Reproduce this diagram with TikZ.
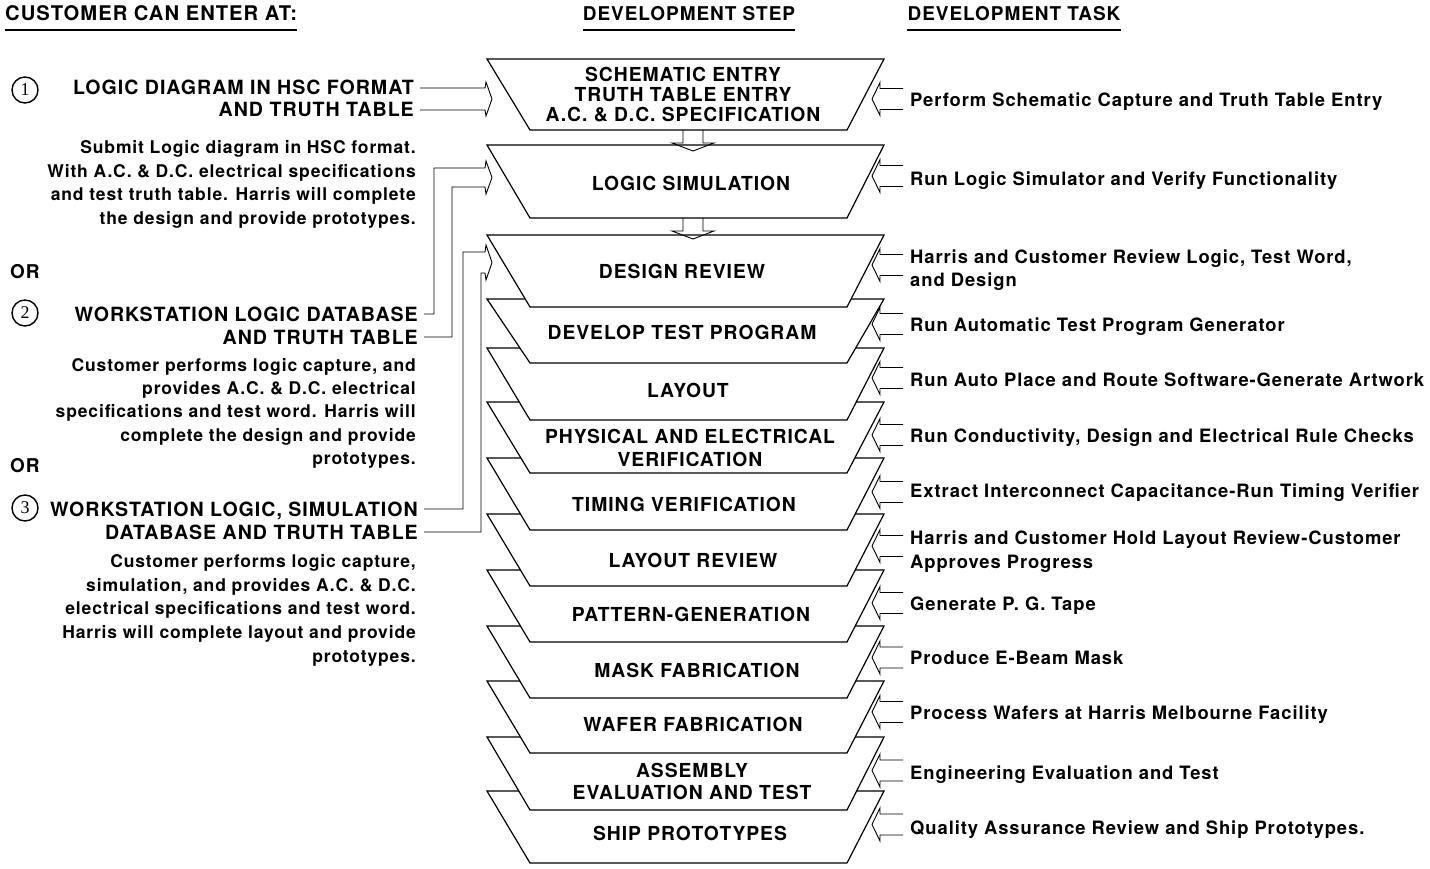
\documentclass[tikz,border=0pt]{standalone}
\usepackage{fontspec}
\setmainfont{TeX Gyre Heros}[LetterSpace=5]
\newfontfamily\numfont{Liberation Serif}

\begin{document}
\begin{tikzpicture}[x=1pt,y=-1pt,
  every node/.style={inner sep=0pt,font=\bfseries},
  stepbox/.style={draw,line width=1.2pt,fill=white},
  steptext/.style={align=center,font=\fontsize{19.3}{20}\selectfont\bfseries},
  header/.style={text height=14pt,text depth=0pt,font=\fontsize{19}{22}\selectfont\bfseries},
  opthead/.style={anchor=east,text height=14pt,text depth=0pt,font=\fontsize{19.6}{22}\selectfont\bfseries},
  desc/.style={anchor=east,text height=12.5pt,text depth=0pt,font=\fontsize{17.5}{20}\selectfont\bfseries},
  task/.style={anchor=west,text height=13pt,text depth=0pt,font=\fontsize{18.4}{21}\selectfont\bfseries},
  optnum/.style={circle,draw,line width=1.4pt,minimum size=26pt,font=\fontsize{18}{18}\selectfont\numfont},
  conn/.style={line width=0.9pt},
  taskarrow/.pic={\draw[conn] (0,-10.5) -- (-23,-10.5) -- (-23,-16.5) -- (-31,0)
    -- (-23,16.5) -- (-23,10.5) -- (0,10.5);}]
  \useasboundingbox (0,0) rectangle (1430,869);

  % column headers
  \node[header,anchor=west,font=\fontsize{20.2}{22}\selectfont\bfseries] (hcust) at (5,14) {CUSTOMER CAN ENTER AT:};
  \node[header] (hstep) at (689,14) {DEVELOPMENT STEP};
  \node[header] (htask) at (1014,14) {DEVELOPMENT TASK};
  \foreach \h in {hcust,hstep,htask}
    \draw[line width=2.5pt] ([yshift=-9pt]\h.south west) -- ([yshift=-9pt]\h.south east);

  % development steps, lowest first so the upper ones overlap
  \foreach \top/\bot in {791/863,737/810,681/753,626/698,570/642,514/586,458/530,
      402/473,348/420,299/363,235/307,145/218,59/130}
    \draw[stepbox] (487,\top) -- (884,\top) -- (847,\bot) -- (530,\bot) -- cycle;
  \foreach \name/\xpos/\ypos/\entry in {
      schem/683/95/{SCHEMATIC ENTRY\\TRUTH TABLE ENTRY\\A.C. \& D.C. SPECIFICATION},
      logicsim/691/183/{LOGIC SIMULATION},
      desrev/682/271/{DESIGN REVIEW},
      devtest/682/332/{DEVELOP TEST PROGRAM},
      layout/688/390/{LAYOUT},
      physver/690/448/{PHYSICAL AND ELECTRICAL\\[3pt]VERIFICATION},
      timing/684/504/{TIMING VERIFICATION},
      layrev/693/560/{LAYOUT REVIEW},
      pattern/691/614/{PATTERN-GENERATION},
      mask/697/670/{MASK FABRICATION},
      wafer/693/724/{WAFER FABRICATION},
      assembly/692/781/{ASSEMBLY\\[2pt]EVALUATION AND TEST},
      ship/690/833/{SHIP PROTOTYPES}}
    \node[steptext] (\name) at (\xpos,\ypos) {\entry};
  \coordinate (drop1) at (693,130);
  \coordinate (drop2) at (693,218);
  \foreach \c in {drop1,drop2}
    \draw[conn] ([xshift=-10pt]\c) -- ++(0,13) -- ++(-11,0) -- ++(21,8)
      -- ++(21,-8) -- ++(-11,0) -- ++(0,-13);

  % entry options
  \node[optnum] (num1) at (25,90) {1};
  \node[optnum] (num2) at (25,313) {2};
  \node[optnum] (num3) at (25,508) {3};
  \node[header,anchor=west] (or1) at (10,271) {OR};
  \node[header,anchor=west] (or2) at (10,465) {OR};
  \node[opthead] (opt1a) at (414,88) {LOGIC DIAGRAM IN HSC FORMAT};
  \node[opthead] (opt1b) at (414,110) {AND TRUTH TABLE};
  \node[opthead] (opt2a) at (418,314) {WORKSTATION LOGIC DATABASE};
  \node[opthead] (opt2b) at (418,337) {AND TRUTH TABLE};
  \node[opthead] (opt3a) at (418,509) {WORKSTATION LOGIC, SIMULATION};
  \node[opthead] (opt3b) at (418,532) {DATABASE AND TRUTH TABLE};
  \foreach \ypos/\entry in {
      147/{Submit Logic diagram in HSC format.},
      171/{With A.C. \& D.C. electrical specifications},
      194/{and test truth table. Harris will complete},
      218/{the design and provide prototypes.},
      365/{Customer performs logic capture, and},
      388/{provides A.C. \& D.C. electrical},
      411/{specifications and test word. Harris will},
      435/{complete the design and provide},
      458/{prototypes.},
      561/{Customer performs logic capture,},
      585/{simulation, and provides A.C. \& D.C.},
      608/{electrical specifications and test word.},
      632/{Harris will complete layout and provide},
      656/{prototypes.}}
    \node[desc] (desc-\ypos) at (416,\ypos) {\entry};

  % entry arrows into the steps
  \draw[conn] ([xshift=6pt]opt1a.east) -- (485,88) -- (486,82) -- (492,99)
    -- (486,116) -- (485,110) -- ([xshift=6pt]opt1b.east);
  \draw[conn] ([xshift=6pt]opt2a.east) -| (434,168) -- (485,168) -- (486,161)
    -- (492,177.5) -- (486,194) -- (485,187) -- (452,187) |- ([xshift=6pt]opt2b.east);
  \draw[conn] ([xshift=6pt]opt3a.east) -| (463,252) -- (485,252) -- (486,245)
    -- (492,262.5) -- (486,280) -- (485,273) -- (481,273) |- ([xshift=6pt]opt3b.east);

  % development tasks
  \foreach \ypos/\entry in {
      100/{Perform Schematic Capture and Truth Table Entry},
      179/{Run Logic Simulator and Verify Functionality},
      257/{Harris and Customer Review Logic, Test Word,},
      280/{and Design},
      325/{Run Automatic Test Program Generator},
      380/{Run Auto Place and Route Software-Generate Artwork},
      436/{Run Conductivity, Design and Electrical Rule Checks},
      491/{Extract Interconnect Capacitance-Run Timing Verifier},
      538/{Harris and Customer Hold Layout Review-Customer},
      562/{Approves Progress},
      604/{Generate P. G. Tape},
      658/{Produce E-Beam Mask},
      713/{Process Wafers at Harris Melbourne Facility},
      773/{Engineering Evaluation and Test},
      828/{Quality Assurance Review and Ship Prototypes.}}
    \node[task] (task-\ypos) at (910,\ypos) {\entry};
  \foreach \t/\dy in {100/1,179/3,257/-8,325/1,380/2,436/1,491/-1,538/-8,
      604/1,658/0.5,713/1,773/2.5,828/3.5}
    \pic at ([xshift=-7pt,yshift=\dy pt]task-\t.west) {taskarrow};
\end{tikzpicture}
\end{document}
